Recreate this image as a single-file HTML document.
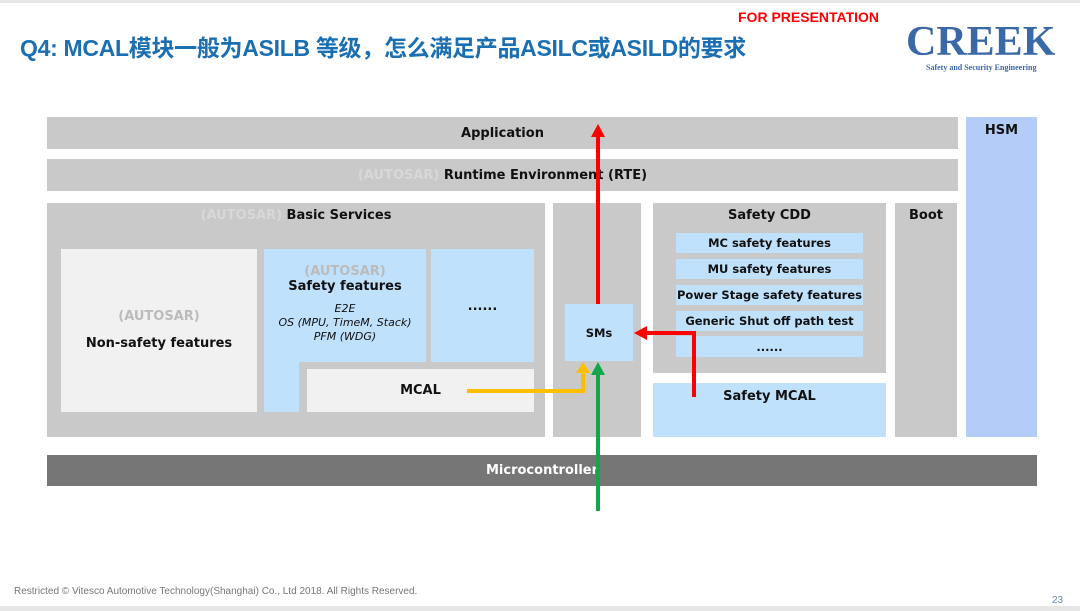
<!DOCTYPE html>
<html><head><meta charset="utf-8"><style>
body{margin:0;width:1080px;height:611px;background:#fff;position:relative;overflow:hidden;font-family:"DejaVu Sans","Liberation Sans",sans-serif;}
.b{position:absolute;box-sizing:border-box;display:flex;flex-direction:column;align-items:center;font-weight:bold;font-size:13px;color:#111;text-align:center}
.g{background:#c9c9c9}.l{background:#c0e1fb}.w{background:#f1f1f1}
.it{font-size:11.5px;justify-content:center}
.ga{color:#d8d8d8}
</style></head><body>
<div style="position:absolute;left:0;top:0;width:1080px;height:3px;background:#e6e6e6"></div>
<div style="position:absolute;left:0;top:606px;width:1080px;height:5px;background:#e6e6e6"></div>
<div style="position:absolute;left:738px;top:9px;color:#f00;font:bold 14px 'Liberation Sans',sans-serif">FOR PRESENTATION</div>
<div style="position:absolute;left:20px;top:29px;color:#1a6fb3;font:bold 23px 'Liberation Sans','Noto Sans CJK SC',sans-serif;letter-spacing:-0.3px">Q4: MCAL模块一般为ASILB 等级，怎么满足产品ASILC或ASILD的要求</div>
<div style="position:absolute;left:906px;top:18px;color:#3b68a6;font:bold 42px 'Liberation Serif',serif;letter-spacing:0px">CREEK</div>
<div style="position:absolute;left:926px;top:63px;color:#3b68a6;font:bold 8px 'Liberation Serif',serif">Safety and Security Engineering</div>

<div class="b g" style="left:47px;top:117px;width:911px;height:32px;justify-content:center">Application</div>
<div class="b g" style="left:47px;top:159px;width:911px;height:32px;justify-content:center"><span><span class="ga">(AUTOSAR)</span> Runtime Environment (RTE)</span></div>
<div class="b" style="left:966px;top:117px;width:71px;height:320px;background:#b3cdf8;padding-top:6px">HSM</div>

<div class="b g" style="left:47px;top:203px;width:498px;height:234px;padding-top:5px"><span><span class="ga">(AUTOSAR)</span> Basic Services</span></div>
<div class="b w" style="left:61px;top:249px;width:196px;height:163px;padding-top:60px"><span style="color:#bbb">(AUTOSAR)</span><span style="margin-top:12px">Non-safety features</span></div>
<div class="b l" style="left:264px;top:249px;width:162px;height:163px;padding-top:15px"><span style="color:#bbb">(AUTOSAR)</span><span>Safety features</span><span style="font-weight:normal;font-style:italic;font-size:11px;margin-top:8px;line-height:14px">E2E<br>OS (MPU, TimeM, Stack)<br>PFM (WDG)</span></div>
<div class="b l" style="left:431px;top:249px;width:103px;height:113px;padding-top:50px">......</div>
<div style="position:absolute;left:299px;top:362px;width:240px;height:55px;background:#c9c9c9"></div>
<div class="b w" style="left:307px;top:369px;width:227px;height:43px;justify-content:center">MCAL</div>

<div class="b g" style="left:553px;top:203px;width:88px;height:234px"></div>
<div class="b l" style="left:565px;top:304px;width:68px;height:57px;justify-content:center;font-size:11.5px">SMs</div>

<div class="b g" style="left:653px;top:203px;width:233px;height:170px;padding-top:5px">Safety CDD</div>
<div class="b l it" style="left:676px;top:233px;width:187px;height:20px">MC safety features</div>
<div class="b l it" style="left:676px;top:259px;width:187px;height:20px">MU safety features</div>
<div class="b l it" style="left:676px;top:285px;width:187px;height:20px">Power Stage safety features</div>
<div class="b l it" style="left:676px;top:311px;width:187px;height:20px">Generic Shut off path test</div>
<div class="b l it" style="left:676px;top:336px;width:187px;height:21px">......</div>
<div class="b l" style="left:653px;top:383px;width:233px;height:54px;padding-top:6px">Safety MCAL</div>
<div class="b g" style="left:895px;top:203px;width:62px;height:234px;padding-top:5px">Boot</div>

<div class="b" style="left:47px;top:455px;width:990px;height:31px;background:#767676;color:#fff;justify-content:center">Microcontroller</div>

<svg style="position:absolute;left:0;top:0" width="1080" height="611">
<polyline points="598,304 598,135" stroke="#f00" stroke-width="4" fill="none"/>
<polygon points="598,124 591,137 605,137" fill="#f00"/>
<polyline points="694,397 694,333 646,333" stroke="#f00" stroke-width="4" fill="none"/>
<polygon points="634,333 647,326 647,340" fill="#f00"/>
<polyline points="467,391 583,391 583,372" stroke="#fbbf00" stroke-width="4" fill="none"/>
<polygon points="583,362 576,373 590,373" fill="#fbbf00"/>
<polyline points="598,511 598,374" stroke="#10a84a" stroke-width="4" fill="none"/>
<polygon points="598,362 591,375 605,375" fill="#10a84a"/>
</svg>

<div style="position:absolute;left:14px;top:586px;color:#777;font:10px 'Liberation Sans','Noto Sans CJK SC',sans-serif">Restricted © Vitesco Automotive Technology(Shanghai) Co., Ltd 2018. All Rights Reserved.</div>
<div style="position:absolute;left:1052px;top:595px;color:#6a8ab0;font:10px 'Liberation Sans',sans-serif">23</div>
</body></html>
